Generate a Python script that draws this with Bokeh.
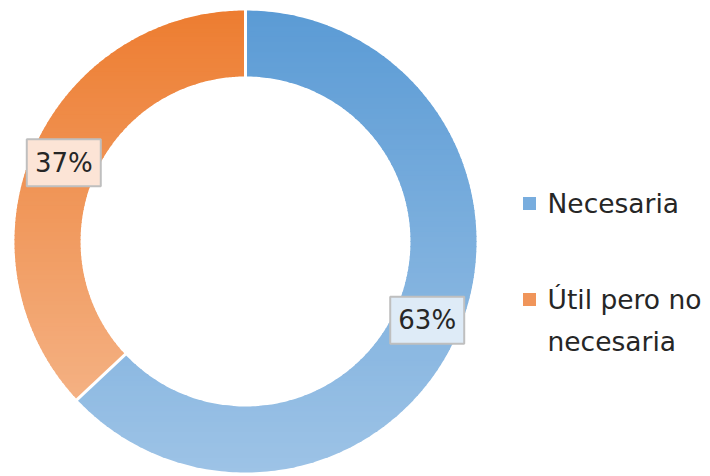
import numpy as np
from bokeh.plotting import figure
from bokeh.models import Range1d
from bokeh.core.properties import value
from bokeh.embed import file_html
from bokeh.resources import INLINE

# ---- data ----
categories = ["Necesaria", "Útil pero no necesaria"]
values = [63, 37]
labels = ["63%", "37%"]
legend_lines = [["Necesaria"], ["Útil pero no", "necesaria"]]
top_colors = ["#5B9BD5", "#ED7D31"]
bottom_colors = ["#9DC3E6", "#F4B183"]
box_fills = ["#DEEBF7", "#FCE4D6"]
legend_colors = ["#78ADDE", "#F0955A"]

# ---- geometry (data units == screen pixels, y up) ----
W, H = 702, 476
cx, cy = 245, 235
r_out, r_in = 231, 165

p = figure(width=W, height=H, output_backend="svg", toolbar_location=None,
           x_range=Range1d(0, W), y_range=Range1d(476 - H, 476),
           min_border=0, outline_line_color=None)
p.axis.visible = False
p.grid.visible = False
p.background_fill_color = "white"
p.border_fill_color = "white"


def hex2rgb(h):
    h = h.lstrip("#")
    return np.array([int(h[i:i + 2], 16) for i in (0, 2, 4)], float)


def rgb2hex(c):
    return "#%02x%02x%02x" % tuple(int(round(v)) for v in c)


def sector_poly(a0, a1, n=240):
    t = np.linspace(a0, a1, n)
    xo = cx + r_out * np.cos(t)
    yo = cy + r_out * np.sin(t)
    xi = cx + r_in * np.cos(t[::-1])
    yi = cy + r_in * np.sin(t[::-1])
    return list(zip(np.concatenate([xo, xi]), np.concatenate([yo, yi])))


def clip(poly, yv, keep_above):
    out = []
    n = len(poly)
    for i in range(n):
        a = poly[i]
        b = poly[(i + 1) % n]
        ina = a[1] >= yv if keep_above else a[1] <= yv
        inb = b[1] >= yv if keep_above else b[1] <= yv
        if ina:
            out.append(a)
        if ina != inb:
            t = (yv - a[1]) / (b[1] - a[1])
            out.append((a[0] + t * (b[0] - a[0]), yv))
    return out


total = float(sum(values))
angles = []
start = np.pi / 2
for v in values:
    end = start - 2 * np.pi * v / total
    angles.append((start, end))
    start = end

xs, ys, cols = [], [], []
nb = 90
for (a0, a1), ct, cb in zip(angles, top_colors, bottom_colors):
    poly = sector_poly(a0, a1)
    pys = [q[1] for q in poly]
    ymin, ymax = min(pys), max(pys)
    edges = np.linspace(ymin, ymax, nb + 1)
    c0, c1 = hex2rgb(ct), hex2rgb(cb)
    for k in range(nb):
        lo, hi = edges[k] - 0.6, edges[k + 1] + 0.6
        part = clip(clip(poly, lo, True), hi, False)
        if len(part) < 3:
            continue
        t = (ymax - 0.5 * (edges[k] + edges[k + 1])) / (ymax - ymin)
        xs.append([q[0] for q in part])
        ys.append([q[1] for q in part])
        cols.append(rgb2hex(c0 + (c1 - c0) * t))

p.patches(xs, ys, fill_color=cols, line_color=None)

# white separators
bounds = [a[0] for a in angles]
p.segment(x0=[cx + (r_in - 3) * np.cos(a) for a in bounds],
          y0=[cy + (r_in - 3) * np.sin(a) for a in bounds],
          x1=[cx + (r_out + 3) * np.cos(a) for a in bounds],
          y1=[cy + (r_out + 3) * np.sin(a) for a in bounds],
          line_color="white", line_width=3)

# data labels
r_mid = (r_in + r_out) / 2
mids = [(a0 + a1) / 2 for a0, a1 in angles]
lx = [cx + r_mid * np.cos(m) for m in mids]
ly = [cy + r_mid * np.sin(m) for m in mids]
p.rect(lx, ly, width=74, height=47, width_units="screen", height_units="screen",
       fill_color=box_fills, line_color="#BFBFBF", line_width=2)
p.text(lx, ly, text=labels, text_align="center", text_baseline="middle",
       text_font=value("DejaVu Sans"), text_font_size="26px", text_color="#262626")

# legend
leg_x = 529
leg_y = [273, 177]
line_gap = 42
p.scatter([leg_x] * 2, leg_y, marker="square", size=13,
          fill_color=legend_colors, line_color=None)
tx, ty, tt = [], [], []
for yv, lines in zip(leg_y, legend_lines):
    for j, s in enumerate(lines):
        tx.append(leg_x + 18)
        ty.append(yv - j * line_gap)
        tt.append(s)
p.text(tx, ty, text=tt, text_align="left", text_baseline="middle",
       text_font=value("DejaVu Sans"), text_font_size="26.5px", text_color="#262626")

open("out.html", "w").write(file_html(p, INLINE))
